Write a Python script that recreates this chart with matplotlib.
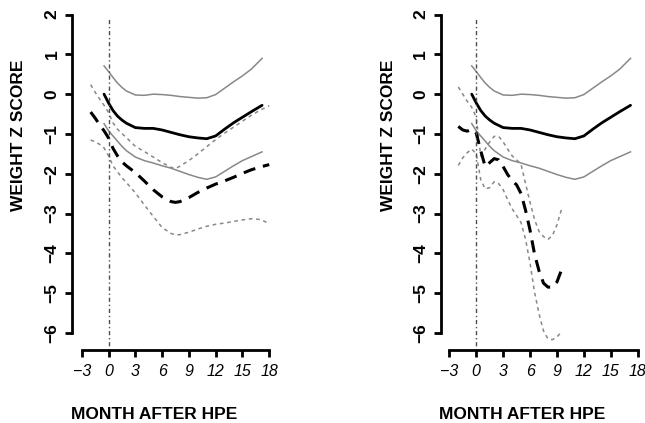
import matplotlib
matplotlib.use("Agg")
import matplotlib.pyplot as plt

plt.rcParams['font.family'] = ['Liberation Sans', 'DejaVu Sans']

# Reference growth curve (same in both panels)
ref_month = [-0.5, 0, 0.5, 1, 1.5, 2, 3, 4, 5, 6, 7, 8, 9, 10, 11, 12, 13, 14, 15, 16, 17.2]
ref_mean = [0.0, -0.22, -0.41, -0.55, -0.65, -0.73, -0.84, -0.86, -0.86, -0.90, -0.96,
            -1.02, -1.07, -1.10, -1.12, -1.05, -0.88, -0.72, -0.58, -0.44, -0.28]
ref_upper = [0.71, 0.57, 0.42, 0.28, 0.17, 0.08, -0.02, -0.03, 0.00, -0.01, -0.03,
             -0.06, -0.08, -0.10, -0.09, -0.01, 0.15, 0.31, 0.46, 0.63, 0.90]
ref_lower = [-0.74, -0.92, -1.05, -1.18, -1.31, -1.42, -1.58, -1.67, -1.73, -1.80, -1.86,
             -1.94, -2.02, -2.09, -2.14, -2.08, -1.94, -1.80, -1.67, -1.57, -1.45]

# Patient group, left panel
month_a = [-2, -1.5, -1, -0.5, 0, 0.5, 1, 1.5, 2, 3, 4, 5, 6, 7, 7.5, 8, 9, 10,
           11, 12, 13, 14, 15, 16, 17, 18]
mean_a = [-0.45, -0.60, -0.77, -0.92, -1.10, -1.36, -1.55, -1.70, -1.80, -1.97, -2.18,
          -2.40, -2.58, -2.70, -2.72, -2.70, -2.60, -2.47, -2.36, -2.26, -2.18, -2.09,
          -1.99, -1.90, -1.83, -1.77]
upper_a = [0.24, 0.05, -0.12, -0.28, -0.46, -0.72, -0.88, -0.99, -1.09, -1.31, -1.44,
           -1.58, -1.72, -1.84, -1.87, -1.81, -1.67, -1.50, -1.32, -1.14, -0.98, -0.83,
           -0.68, -0.53, -0.40, -0.29]
lower_a = [-1.15, -1.20, -1.26, -1.35, -1.55, -1.80, -1.95, -2.10, -2.22, -2.48, -2.78,
           -3.07, -3.35, -3.50, -3.54, -3.53, -3.47, -3.39, -3.32, -3.27, -3.24, -3.20,
           -3.16, -3.13, -3.15, -3.25]

# Patient group, right panel
month_b = [-2, -1.5, -1, -0.5, 0, 0.5, 1, 1.5, 2, 2.5, 3, 3.5, 4, 4.5, 5, 5.5, 6, 6.5,
           7, 7.5, 8, 8.5, 9, 9.5]
mean_b = [-0.81, -0.90, -0.93, -0.88, -0.98, -1.42, -1.82, -1.72, -1.62, -1.65, -1.82,
          -2.02, -2.17, -2.28, -2.50, -2.92, -3.42, -4.02, -4.44, -4.75, -4.85, -4.85,
          -4.72, -4.42]
upper_b = [0.18, 0.0, -0.18, -0.33, -0.58, -1.55, -1.38, -1.20, -1.06, -1.06, -1.20,
           -1.38, -1.55, -1.65, -1.77, -2.25, -2.72, -3.15, -3.45, -3.58, -3.65, -3.55,
           -3.28, -2.90]
lower_b = [-1.79, -1.60, -1.47, -1.38, -1.50, -2.15, -2.38, -2.35, -2.20, -2.25, -2.40,
           -2.65, -2.88, -3.05, -3.23, -3.65, -4.25, -4.98, -5.52, -5.95, -6.15, -6.17,
           -6.10, -5.98]

x_ticks = [-3, 0, 3, 6, 9, 12, 15, 18]
y_ticks = [-6, -5, -4, -3, -2, -1, 0, 1, 2]

fig = plt.figure(figsize=(6.45, 4.23), dpi=100)


def draw_panel(ax, month, mean, upper, lower, x_left):
    # reference curves
    ax.plot(ref_month, ref_upper, color='#888888', lw=1.1)
    ax.plot(ref_month, ref_lower, color='#888888', lw=1.1)
    ax.plot(ref_month, ref_mean, color='black', lw=2.0, solid_capstyle='round')
    # patient curves
    ax.plot(month, upper, color='#888888', lw=1.1, dashes=(2.4, 2.4))
    ax.plot(month, lower, color='#888888', lw=1.1, dashes=(2.4, 2.4))
    ax.plot(month, mean, color='black', lw=2.2, dashes=(4.0, 2.6))
    # vertical line at month 0
    ylo, yhi = -6.43, 2.05
    ax.axvline(0, ymin=0.0, ymax=(1.95 - ylo) / (yhi - ylo), color='#4d4d4d', lw=1.0,
               dashes=(1, 2, 3, 2))

    ax.set_xlim(x_left, 18.4)
    ax.set_ylim(ylo, yhi)
    ax.set_xticks(x_ticks)
    ax.set_yticks(y_ticks)
    ax.set_xticklabels([f"\u2212{-t}" if t < 0 else str(t) for t in x_ticks],
                       fontstyle='italic', fontsize=11.5)
    ax.set_yticklabels([f"\u2212{-t}" if t < 0 else str(t) for t in y_ticks],
                       fontweight='bold', fontsize=12.5, rotation=90, va='center')

    for side in ['top', 'right']:
        ax.spines[side].set_visible(False)
    ax.spines['left'].set_bounds(-6, 2)
    ax.spines['bottom'].set_bounds(-3, 18)
    ax.spines['left'].set_linewidth(2)
    ax.spines['bottom'].set_linewidth(2)
    ax.tick_params(direction='out', length=5, width=2)
    ax.tick_params(axis='y', pad=4)
    ax.tick_params(axis='x', pad=5)


ax1 = fig.add_axes([72 / 645, 73 / 423, 200.8 / 645, 337.4 / 423])
draw_panel(ax1, month_a, mean_a, upper_a, lower_a, -4.09)

ax2 = fig.add_axes([440.7 / 645, 73 / 423, 200.6 / 645, 337.4 / 423])
draw_panel(ax2, month_b, mean_b, upper_b, lower_b, -3.96)

# Axis titles
for x in [19 / 645, 388 / 645]:
    fig.text(x, 0.68, "WEIGHT Z SCORE", rotation=90, ha='center', va='center',
             fontweight='bold', fontsize=12.5)
for x in [154 / 645, 522 / 645]:
    fig.text(x, 0.019, "MONTH AFTER HPE", ha='center', va='center',
             fontweight='bold', fontsize=12.5)

plt.savefig("out.png", dpi=100)
